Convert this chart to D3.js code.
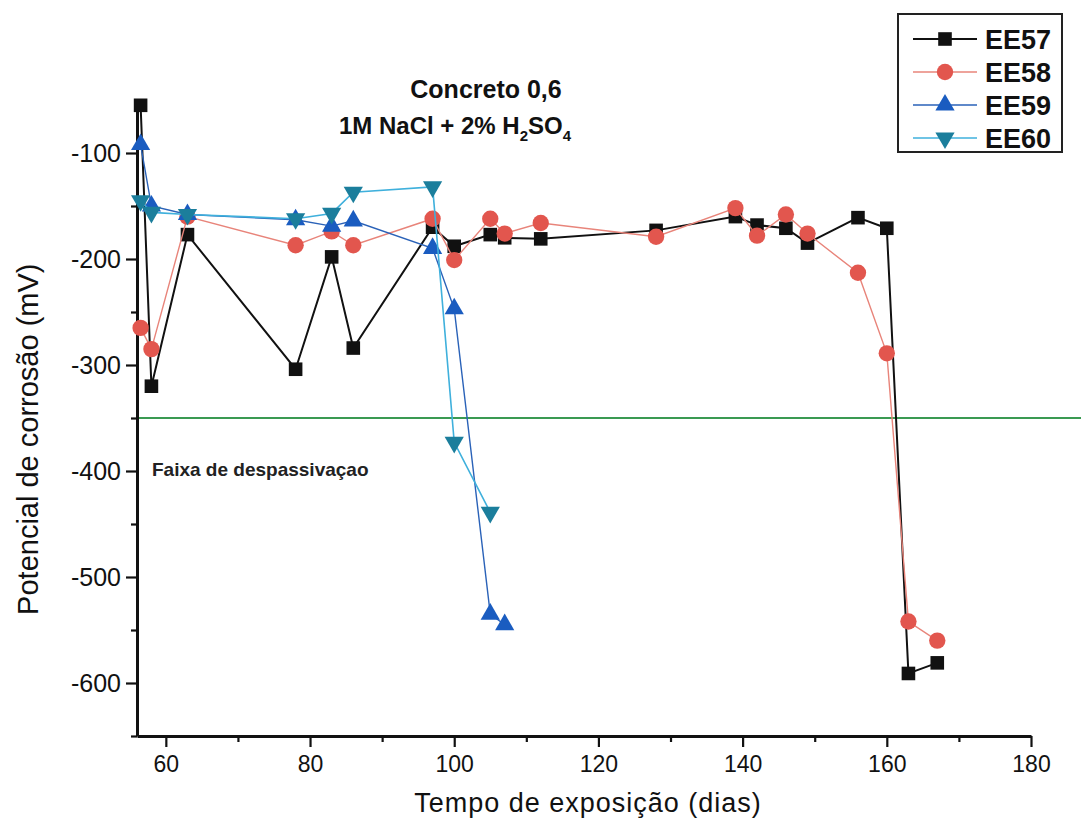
<!DOCTYPE html>
<html>
<head>
<meta charset="utf-8">
<script src="https://cdn.jsdelivr.net/npm/d3@7"></script>
<style>
  html, body { margin: 0; padding: 0; background: #fff; }
  svg { display: block; font-family: "Liberation Sans", Arial, sans-serif; }
</style>
</head>
<body>
<svg id="chart" width="1081" height="829"></svg>
<script>
// Corrosion potential (mV) versus exposure time (days)
const ee57Days = [56.5, 58, 63, 78, 83, 86, 97, 100, 105, 107, 112, 128, 139, 142, 146, 149, 156, 160, 163, 167];
const ee57Vals = [-55, -320, -177, -304, -198, -284, -170, -188, -177, -180, -181, -173, -160, -168, -171, -185, -161, -171, -591, -581];

const ee58Days = [56.5, 58, 63, 78, 83, 86, 97, 100, 105, 107, 112, 128, 139, 142, 146, 149, 156, 160, 163, 167];
const ee58Vals = [-265, -285, -160, -187, -174, -187, -162, -201, -162, -176, -166, -179, -152, -178, -158, -176, -213, -289, -542, -560];

const ee59Days = [56.5, 58, 63, 78, 83, 86, 97, 100, 105, 107];
const ee59Vals = [-92, -150, -158, -163, -169, -164, -190, -247, -535, -545];

const ee60Days = [56.5, 58, 63, 78, 83, 86, 97, 100, 105];
const ee60Vals = [-145, -156, -158, -162, -157, -137, -132, -373, -439];

const seriesNames = ["EE57", "EE58", "EE59", "EE60"];
const xTicks = [60, 80, 100, 120, 140, 160, 180];
const xMinorTicks = [70, 90, 110, 130, 150, 170];
const yTicks = [-100, -200, -300, -400, -500, -600];
const yMinorTicks = [-150, -250, -350, -450, -550, -650];
const limitValue = -350;

const series = [
  { name: seriesNames[0], days: ee57Days, vals: ee57Vals, line: "#111111", lw: 2,   fill: "#111111", shape: "square" },
  { name: seriesNames[1], days: ee58Days, vals: ee58Vals, line: "#e8847a", lw: 1.4, fill: "#e2564e", shape: "circle" },
  { name: seriesNames[2], days: ee59Days, vals: ee59Vals, line: "#2a62b8", lw: 1.4, fill: "#1a5cc0", shape: "up" },
  { name: seriesNames[3], days: ee60Days, vals: ee60Vals, line: "#3fb0dc", lw: 1.6, fill: "#1b7e9c", shape: "down" }
];

const svg = d3.select("#chart");
const x = d3.scaleLinear().domain([56, 180]).range([137, 1031]);
const y = d3.scaleLinear().domain([-650, -50]).range([736, 100]);
const plainNum = d => String(d);

// threshold line for depassivation
svg.append("line")
  .attr("x1", x(56)).attr("x2", 1081)
  .attr("y1", y(limitValue)).attr("y2", y(limitValue))
  .attr("stroke", "#3a9a52").attr("stroke-width", 2);

svg.append("text")
  .attr("x", 152).attr("y", y(-400) + 5)
  .attr("font-size", 19).attr("font-weight", "bold").attr("fill", "#222")
  .text("Faixa de despassivaçao");

// axes
const xAxis = svg.append("g").attr("transform", `translate(0,${y(-650)})`)
  .call(d3.axisBottom(x).tickValues(xTicks).tickSize(11).tickSizeOuter(0).tickPadding(9).tickFormat(plainNum));
svg.append("g").attr("transform", `translate(0,${y(-650)})`)
  .call(d3.axisBottom(x).tickValues(xMinorTicks).tickSize(6).tickSizeOuter(0).tickFormat(""))
  .select(".domain").remove();
const yAxis = svg.append("g").attr("transform", `translate(${x(56)},0)`)
  .call(d3.axisLeft(y).tickValues(yTicks).tickSize(11).tickSizeOuter(0).tickPadding(5).tickFormat(plainNum));
svg.append("g").attr("transform", `translate(${x(56)},0)`)
  .call(d3.axisLeft(y).tickValues(yMinorTicks).tickSize(6).tickSizeOuter(0).tickFormat(""))
  .select(".domain").remove();

svg.selectAll(".domain").attr("stroke", "#111").attr("stroke-width", 3);
svg.selectAll(".tick line").attr("stroke", "#111").attr("stroke-width", 2.2);
xAxis.selectAll("text").attr("font-size", 23).attr("fill", "#111")
  .attr("font-family", "'Liberation Sans', Arial, sans-serif");
yAxis.selectAll("text").attr("font-size", 25).attr("fill", "#111")
  .attr("font-family", "'Liberation Sans', Arial, sans-serif");

// axis titles
svg.append("text")
  .attr("x", 588).attr("y", 812)
  .attr("text-anchor", "middle").attr("font-size", 27).attr("letter-spacing", 1).attr("fill", "#111")
  .text("Tempo de exposição (dias)");
svg.append("text")
  .attr("transform", `translate(38,${y(-370)}) rotate(-90)`)
  .attr("text-anchor", "middle").attr("font-size", 29).attr("fill", "#111")
  .text("Potencial de corrosão (mV)");

// title
svg.append("text")
  .attr("x", 486).attr("y", 98)
  .attr("text-anchor", "middle").attr("font-size", 25).attr("font-weight", "bold").attr("fill", "#111")
  .text("Concreto 0,6");
const t2 = svg.append("text")
  .attr("x", 455).attr("y", 134)
  .attr("text-anchor", "middle").attr("font-size", 24).attr("font-weight", "bold").attr("fill", "#111");
t2.append("tspan").text("1M NaCl + 2% H");
t2.append("tspan").attr("font-size", 15).attr("dy", 7).text("2");
t2.append("tspan").attr("dy", -7).text("SO");
t2.append("tspan").attr("font-size", 15).attr("dy", 7).text("4");

// marker shapes
function symbolPath(shape) {
  if (shape === "square") return d3.symbol(d3.symbolSquare, 185)();
  if (shape === "circle") return d3.symbol(d3.symbolCircle, 210)();
  return d3.symbol(d3.symbolTriangle, 160)();
}
function drawMarker(g, shape, fill, cx, cy) {
  g.append("path")
    .attr("d", symbolPath(shape))
    .attr("transform", `translate(${cx},${cy})` + (shape === "down" ? " rotate(180)" : ""))
    .attr("fill", fill);
}

const plot = svg.append("g");
const line = d3.line().x(d => x(d[0])).y(d => y(d[1]));
series.forEach(s => {
  const pts = s.days.map((d, i) => [d, s.vals[i]]);
  const g = plot.append("g");
  g.append("path").datum(pts)
    .attr("d", line).attr("fill", "none")
    .attr("stroke", s.line).attr("stroke-width", s.lw);
  pts.forEach(p => drawMarker(g, s.shape, s.fill, x(p[0]), y(p[1])));
});

// legend
const lg = svg.append("g");
lg.append("rect").attr("x", 898).attr("y", 14).attr("width", 164).attr("height", 138)
  .attr("fill", "#fff").attr("stroke", "#222").attr("stroke-width", 2);
series.forEach((s, i) => {
  const ly = 39 + i * 33;
  lg.append("line").attr("x1", 913).attr("x2", 977).attr("y1", ly).attr("y2", ly)
    .attr("stroke", s.line).attr("stroke-width", s.lw);
  drawMarker(lg, s.shape, s.fill, 945, ly);
  lg.append("text").attr("x", 985).attr("y", ly + 10)
    .attr("font-size", 27).attr("font-weight", "bold").attr("fill", "#111").text(s.name);
});
</script>
</body>
</html>
